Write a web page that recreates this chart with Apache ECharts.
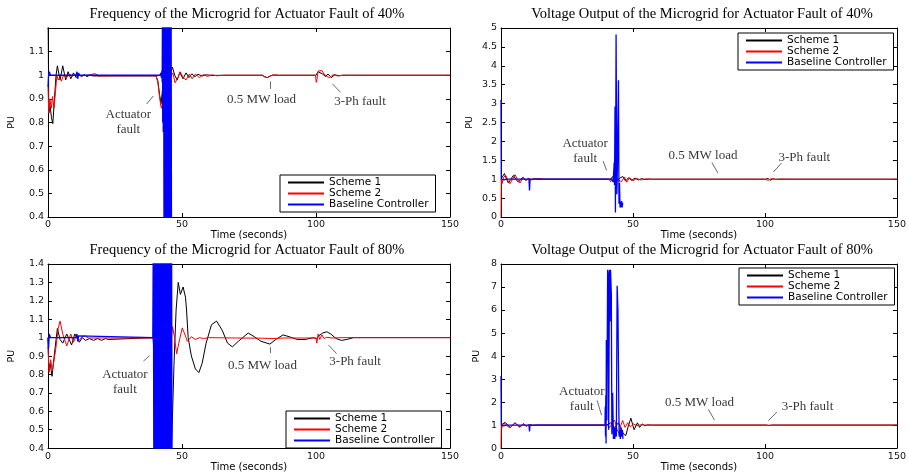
<!DOCTYPE html>
<html><head><meta charset="utf-8">
<script src="https://cdn.jsdelivr.net/npm/echarts@6/dist/echarts.min.js"></script>
<style>html,body{margin:0;padding:0;background:#fff}#c{width:909px;height:473px}</style>
</head><body><div id="c"></div>
<script>
// ---------- data (time [s], value [PU]) ----------
const seriesNames = ['Scheme 1', 'Scheme 2', 'Baseline Controller'];
const titles = [
  'Frequency of the Microgrid for Actuator Fault of 40%',
  'Voltage Output of the Microgrid for Actuator Fault of 40%',
  'Frequency of the Microgrid for Actuator Fault of 80%',
  'Voltage Output of the Microgrid for Actuator Fault of 80%'
];
const xTicks = [0, 50, 100, 150];
const yTicksF40 = [0.4, 1.2, 0.1];
const yTicksV40 = [0, 5, 0.5];
const yTicksF80 = [0.4, 1.4, 0.1];
const yTicksV80 = [0, 8, 1];

const f40_s1 = [[0,1.3],[0.3,0.84],[0.8,0.87],[1.3,0.82],[1.8,0.795],[2.4,0.9],[3.0,1.0],[3.5,1.04],[4.5,0.98],[5.5,1.04],[6.6,0.98],[7.5,1.015],[8.5,0.985],[9.5,1.01],[10.5,0.99],[11.5,1.006],[12.5,0.993],[13.5,1.003],[14.5,0.994],[15.5,1.0],[17,0.997],[20,0.997],[25,0.997],[30,0.997],[35,0.997],[40.3,0.997],[41,0.975],[41.6,0.92],[42.2,0.88],[42.8,0.95],[43.5,1.0],[45.5,1.0],[46.4,1.035],[47.3,1.0],[48.2,0.98],[49.2,1.012],[50.4,0.985],[51.5,1.01],[52.6,0.99],[53.7,1.006],[54.8,0.994],[56,1.004],[57.5,0.997],[59,1.002],[61,0.999],[65,1.0],[80,1.0],[80.8,0.994],[81.8,0.99],[82.8,0.996],[84,1.001],[86,1.0],[100,1.0],[100.8,1.015],[101.5,1.02],[102.5,1.005],[103.5,0.995],[104.5,1.005],[105.7,0.99],[107,1.002],[108.5,0.998],[110,1.0],[150,1.0]];
const f40_s2 = [[0,0.95],[0.3,0.84],[0.7,0.9],[1.2,0.86],[1.7,0.91],[2.2,0.86],[2.8,0.93],[3.3,1.0],[3.8,0.98],[4.4,0.99],[5.0,0.975],[5.8,1.0],[7,0.99],[8,1.005],[9,0.995],[10,1.003],[12,0.998],[15,1.0],[17.5,1.007],[19,0.997],[25,0.998],[40.3,0.998],[41,0.97],[41.6,0.91],[42.1,0.87],[42.4,0.86],[42.8,0.9],[43.3,1.0],[46,1.0],[46.6,1.01],[47.4,0.968],[48.5,0.99],[49.3,1.015],[50.5,0.99],[51.5,0.98],[52.7,1.005],[53.8,0.985],[55,1.005],[56.5,0.99],[58,1.003],[59.5,0.995],[61,1.002],[63,0.998],[66,1.0],[80,1.0],[80.8,0.993],[81.8,0.99],[82.8,0.996],[84,1.002],[86,1.0],[99.8,1.0],[100.1,0.97],[100.4,0.985],[100.8,1.018],[101.4,1.01],[102.2,1.02],[103,1.005],[104,0.995],[105,0.99],[106.5,1.003],[108,0.997],[110,1.0],[150,1.0]];
const f40_base = [[0,0.95],[0.2,1.0],[0.5,1.015],[0.9,1.0],[10.5,1.0],[10.8,1.015],[11.1,0.985],[11.4,1.01],[11.7,1.0],[41.8,1.0],[42.1,1.01],[42.3,0.99],[42.5,1.02],[42.6,0.97],[42.7,1.25],[42.8,0.8],[42.9,1.4],[43.0,0.76],[43.1,1.6],[43.3,0.2],[43.5,1.6],[43.7,0.2],[43.9,1.6],[44.1,0.2],[44.3,1.6],[44.5,0.2],[44.7,1.6],[44.9,0.2],[45.1,1.6],[45.3,0.2],[45.5,1.6],[45.7,0.2],[45.9,1.6],[46.1,0.2]];

const v40_s1 = [[0,1.0],[0.6,0.95],[1.3,1.15],[2.1,1.0],[2.8,0.9],[3.7,1.0],[4.7,1.1],[5.6,1.0],[6.6,0.92],[7.5,1.0],[8.4,1.05],[9.4,0.97],[10.5,1.02],[11.5,0.99],[12.5,1.01],[14,1.0],[41.5,1.0],[42.3,1.07],[43,1.0],[44,0.95],[45,1.03],[46.2,1.07],[47.2,0.95],[48.3,1.04],[49.5,0.97],[50.8,1.03],[52,0.98],[53.3,1.015],[54.6,0.99],[56,1.005],[58,1.0],[100.2,1.0],[100.7,1.05],[101.2,1.02],[102,0.97],[103,1.01],[104,1.0],[150,1.0]];
const v40_s2 = [[0,0],[0.1,1.0],[0.4,0.88],[1.0,1.05],[1.8,1.1],[2.7,0.95],[3.4,0.88],[4.1,0.86],[5.3,1.12],[6.2,1.0],[7.2,0.9],[8.4,1.05],[9.3,0.97],[10.5,1.02],[11.5,0.98],[12.5,1.01],[14.6,1.02],[16,1.0],[41,1.0],[41.5,0.93],[42.3,1.05],[43.2,0.96],[44.2,1.0],[45.6,0.93],[46.8,1.06],[47.6,0.92],[48.7,1.04],[50,0.96],[51.4,1.02],[53,0.98],[55,1.01],[57,0.995],[59,1.0],[100,1.0],[100.4,1.04],[101.2,0.97],[102.5,1.02],[104,0.99],[106,1.005],[108,1.0],[150,1.0]];
const v40_base = [[0,3.1],[0.1,1.0],[0.6,1.05],[1.2,0.98],[2,1.0],[10.6,1.0],[10.8,0.7],[11.0,1.0],[41.8,1.0],[42.3,1.05],[42.5,0.93],[42.7,1.2],[42.9,1.45],[43.0,0.85],[43.2,2.92],[43.35,0.12],[43.6,4.83],[43.9,0.6],[44.1,1.3],[44.5,3.62],[44.7,0.35],[44.9,0.9],[45.1,0.25],[45.3,0.4],[45.5,0.25],[45.7,0.42],[45.9,0.25],[46.1,0.38]];

const f80_s1 = [[0,1.0],[0.3,0.82],[0.8,0.86],[1.5,0.79],[2.3,0.9],[3.5,1.05],[4.5,0.99],[5.5,0.97],[7.0,1.02],[8.8,0.96],[10.0,1.02],[11.7,0.975],[12.8,1.0],[14,0.985],[15.5,0.995],[17,0.985],[18.5,0.995],[20,0.985],[21.5,0.995],[22.5,0.99],[23,1.0],[39.2,1.0],[40,0.8],[41,0.5],[43,0.3],[45.5,0.3],[46.2,0.45],[47,0.85],[47.8,1.15],[48.6,1.3],[49.4,1.235],[50.4,1.275],[51.3,1.22],[51.7,1.15],[52.3,1.0],[53.5,0.9],[55,0.83],[56.3,0.81],[57.5,0.86],[59,0.97],[61,1.07],[62.9,1.09],[65,1.04],[67,0.97],[68.8,0.95],[71,0.98],[74.7,1.025],[77,1.005],[79.5,0.98],[82.8,0.965],[85,0.99],[87.7,1.015],[90,1.005],[93,0.99],[96,0.99],[99,1.0],[100.2,0.995],[101,1.01],[102.5,1.025],[104,1.032],[105.5,1.02],[107.5,0.995],[109.5,0.985],[111.5,0.99],[114,1.0],[150,1.0]];
const f80_s2 = [[0,0.95],[0.4,0.81],[1.0,0.88],[1.6,0.82],[2.3,0.88],[3.0,0.95],[3.8,1.05],[4.5,1.09],[5.5,1.02],[7.0,0.955],[8.5,1.02],[9.5,0.975],[10.7,1.015],[11.7,0.985],[12.7,1.005],[13.8,1.01],[15,0.998],[20,0.998],[39.2,0.998],[40,0.95],[42,0.9],[44,1.0],[46,1.0],[46.5,1.06],[47.2,1.0],[48,0.912],[48.8,0.97],[50.1,1.053],[51,1.02],[52,0.98],[53.5,1.005],[55,0.99],[56.5,1.0],[58,0.995],[60,1.0],[70,0.998],[80,0.997],[84,0.995],[88,0.998],[95,0.998],[100,0.998],[100.3,0.97],[100.8,1.02],[101.4,0.99],[102.2,1.015],[103,0.995],[104,1.002],[106,0.998],[110,1.0],[150,1.0]];
const f80_base = [[0,1.0],[0.2,0.94],[0.5,1.02],[0.9,1.0],[10.5,1.0],[10.8,1.02],[11.1,0.98],[11.4,1.01],[11.7,1.0],[39.1,1.0],[39.3,1.6],[39.5,0.2],[39.7,1.6],[39.9,0.2],[40.1,1.6],[40.3,0.2],[40.5,1.6],[40.7,0.2],[40.9,1.6],[41.1,0.2],[41.3,1.6],[41.5,0.2],[41.7,1.6],[41.9,0.2],[42.1,1.6],[42.3,0.2],[42.5,1.6],[42.7,0.2],[42.9,1.6],[43.1,0.2],[43.3,1.6],[43.5,0.2],[43.7,1.6],[43.9,0.2],[44.1,1.6],[44.3,0.2],[44.5,1.6],[44.7,0.2],[44.9,1.6],[45.1,0.2],[45.3,1.6],[45.5,0.2],[45.7,1.6],[45.9,0.2],[46.1,1.6],[46.3,0.2]];

const v80_s1 = [[0,1.0],[0.6,0.95],[1.6,1.12],[2.5,1.0],[3.5,0.9],[4.4,1.0],[5.3,1.1],[6.2,1.0],[7.2,0.92],[8.4,1.06],[9.6,0.96],[10.8,1.02],[12,0.99],[13.5,1.0],[40,1.0],[41.5,1.1],[43,0.9],[44.5,1.1],[45.5,0.8],[46.5,0.6],[47.3,0.55],[48.2,0.95],[49.2,1.3],[50.4,0.8],[51.7,1.1],[52.5,0.9],[53.5,1.05],[54.5,0.97],[55.5,1.01],[57,1.0],[100.5,1.0],[101,1.03],[101.6,0.98],[102.5,1.0],[150,1.0]];
const v80_s2 = [[0,0],[0.1,1.0],[0.5,0.9],[1.4,1.08],[2.4,0.95],[3.5,0.88],[4.5,1.0],[5.3,1.1],[6.3,0.98],[7.2,0.9],[8.4,1.05],[9.6,0.95],[10.8,1.02],[12,0.99],[13.5,1.0],[40,1.0],[41.2,0.9],[42.2,1.1],[43,1.22],[44,0.8],[44.8,0.6],[45.4,1.0],[46.1,1.2],[47.0,0.9],[48.0,1.1],[49.0,0.92],[50.2,1.05],[51.5,0.97],[53,1.01],[55,1.0],[100.4,1.0],[100.8,1.03],[101.5,0.99],[102.5,1.0],[150,1.0]];
const v80_base = [[0,3.13],[0.1,1.0],[0.6,1.05],[1.2,0.98],[2,1.0],[10.6,1.0],[10.8,0.72],[11.0,1.0],[39.4,1.0],[39.5,1.8],[39.6,0.5],[39.7,2.3],[39.8,0.2],[39.9,4.7],[40.1,1.2],[40.4,7.75],[40.6,7.6],[40.8,0.8],[41.1,7.75],[41.3,5.5],[41.5,7.75],[41.8,6.7],[42.0,0.6],[42.3,2.4],[42.6,0.4],[42.9,0.9],[43.1,0.4],[43.4,0.9],[43.7,0.5],[44.0,7.05],[44.3,6.0],[44.75,0.5],[45.0,0.8],[45.2,0.4],[45.5,0.9],[45.7,0.5],[46.0,0.8],[46.2,0.4]];

// annotation anchors in data coordinates: [t, value, text]
const notesF40 = [[29.96,0.803,'Actuator\nfault'],[79.7,0.895,'0.5 MW load'],[116.4,0.888,'3-Ph fault']];
const arrowsF40 = [[36.8,0.878,39.3,0.912],[83.1,0.942,83.1,0.974],[109.2,0.927,106.1,0.964]];
const notesV40 = [[31.9,1.754,'Actuator\nfault'],[76.5,1.62,'0.5 MW load'],[114.9,1.56,'3-Ph fault']];
const arrowsV40 = [[38.7,1.48,40.0,1.23],[79.9,1.44,82.2,1.16],[106.3,1.43,103.2,1.19]];
const notesF80 = [[28.7,0.761,'Actuator\nfault'],[80.0,0.848,'0.5 MW load'],[114.6,0.872,'3-Ph fault']];
const arrowsF80 = [[35.6,0.872,37.9,0.903],[83.1,0.916,83.1,0.948],[107.7,0.913,104.6,0.961]];
const notesV80 = [[30.6,2.14,'Actuator\nfault'],[75.2,1.97,'0.5 MW load'],[116.1,1.82,'3-Ph fault']];
const arrowsV80 = [[36.4,2.07,38.1,1.43],[78.6,1.68,80.9,1.21],[104.5,1.57,101.3,1.19]];

// ---------- layout ----------
const panels = [
  {grid:{left:48,right:459,top:28,bottom:256}, y:yTicksF40, lines:[f40_s1,f40_s2,f40_base], tx:247, ty:7,   lg:{left:280,top:175}, notes:notesF40, arrows:arrowsF40, yGap:31, hideMax:true},
  {grid:{left:501,right:4,top:28,bottom:256},  y:yTicksV40, lines:[v40_s1,v40_s2,v40_base], tx:702, ty:7,   lg:{left:738,top:33},  notes:notesV40, arrows:arrowsV40, yGap:26, hideMax:false},
  {grid:{left:48,right:459,top:264,bottom:21}, y:yTicksF80, lines:[f80_s1,f80_s2,f80_base], tx:247, ty:243, lg:{left:286,top:411}, notes:notesF80, arrows:arrowsF80, yGap:31, hideMax:false},
  {grid:{left:501,right:4,top:264,bottom:21},  y:yTicksV80, lines:[v80_s1,v80_s2,v80_base], tx:702, ty:243, lg:{left:739,top:268}, notes:notesV80, arrows:arrowsV80, yGap:19, hideMax:false}
];
const colors = ['#000000', '#ff0000', '#0000ff'];
const widths = [1, 1, 1.3];
const sans = 'DejaVu Sans';
const serif = 'Liberation Serif';

const option = {
  animation: false,
  backgroundColor: '#fff',
  title: [], legend: [], grid: [], xAxis: [], yAxis: [], series: []
};

const axisLine = {show: true, onZero: false, lineStyle: {color: '#000', width: 1}};
const tick = {show: true, inside: true, length: 4, lineStyle: {color: '#000', width: 1}};

panels.forEach((p, i) => {
  option.grid.push(Object.assign({containLabel: false}, p.grid));
  option.title.push({
    text: titles[i], left: p.tx, top: p.ty, textAlign: 'center', padding: 0,
    textStyle: {fontFamily: serif, fontSize: 14.5, fontWeight: 'normal', color: '#000'}
  });
  option.legend.push({
    data: seriesNames, icon: 'rect',
    orient: 'vertical', left: p.lg.left, top: p.lg.top,
    padding: [2, 7, 2, 8], itemGap: 0, itemWidth: 36, itemHeight: 2,
    borderColor: '#000', borderWidth: 1, backgroundColor: '#fff', selectedMode: false,
    textStyle: {fontFamily: sans, fontSize: 10.5, lineHeight: 10.5, color: '#000'}
  });
  const xa = {
    type: 'value', gridIndex: i, min: xTicks[0], max: xTicks[xTicks.length - 1], interval: xTicks[1] - xTicks[0],
    axisLine, axisTick: tick, splitLine: {show: false}
  };
  option.xAxis.push(Object.assign({}, xa, {
    position: 'bottom', name: 'Time (seconds)', nameLocation: 'middle', nameGap: 11,
    nameTextStyle: {fontFamily: sans, fontSize: 10, color: '#000'},
    axisLabel: {fontFamily: sans, fontSize: 9.5, color: '#111', margin: 3}
  }));
  option.xAxis.push(Object.assign({}, xa, {position: 'top', axisLabel: {show: false}}));
  const ya = {
    type: 'value', gridIndex: i, min: p.y[0], max: p.y[1], interval: p.y[2],
    axisLine, axisTick: tick, splitLine: {show: false}
  };
  option.yAxis.push(Object.assign({}, ya, {
    position: 'left', name: 'PU', nameLocation: 'middle', nameGap: p.yGap, nameRotate: 90,
    nameTextStyle: {fontFamily: sans, fontSize: 9.5, color: '#000'},
    axisLabel: {fontFamily: sans, fontSize: 9.5, color: '#111', margin: 4, showMaxLabel: !p.hideMax}
  }));
  option.yAxis.push(Object.assign({}, ya, {position: 'right', axisLabel: {show: false}}));

  p.lines.forEach((d, k) => {
    option.series.push({
      name: seriesNames[k], type: 'line', xAxisIndex: 2 * i, yAxisIndex: 2 * i,
      data: d, symbol: 'none', showSymbol: false, clip: true, z: 2 + k,
      lineStyle: {color: colors[k], width: widths[k]},
      itemStyle: {color: colors[k]}
    });
  });
  option.series.push({
    type: 'scatter', xAxisIndex: 2 * i, yAxisIndex: 2 * i, z: 10, silent: true,
    data: p.notes, symbol: 'circle', symbolSize: 1,
    itemStyle: {color: 'rgba(0,0,0,0)'},
    label: {
      show: true, position: 'inside', formatter: q => q.data[2],
      fontFamily: serif, fontSize: 13, color: '#000', lineHeight: 15, align: 'center'
    },
    markLine: {
      silent: true, symbol: ['none', 'arrow'], symbolSize: [0, 5], label: {show: false},
      lineStyle: {color: '#444', width: 0.8, type: 'solid'},
      data: p.arrows.map(a => [{coord: [a[0], a[1]]}, {coord: [a[2], a[3]]}])
    }
  });
});

const chart = echarts.init(document.getElementById('c'), null, {renderer: 'canvas'});
chart.setOption(option);
</script>
</body></html>
